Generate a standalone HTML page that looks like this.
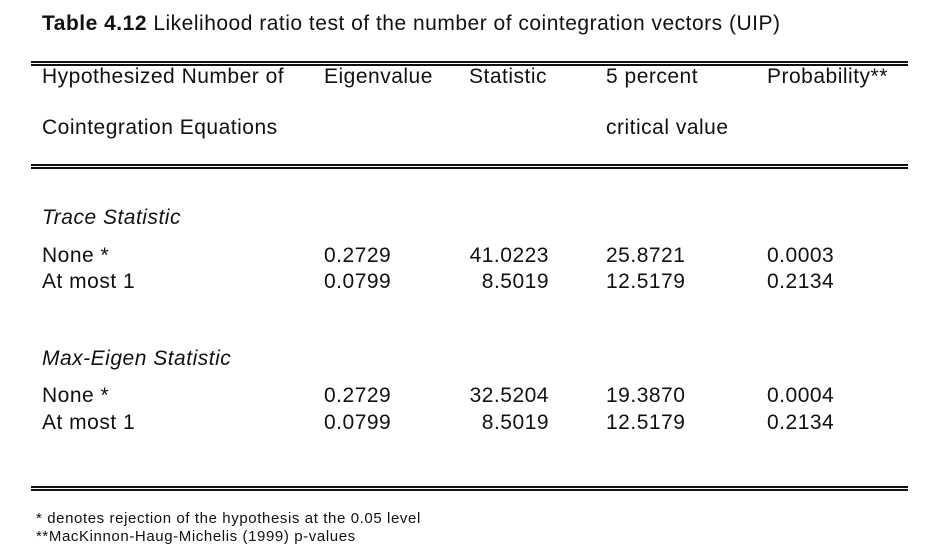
<!DOCTYPE html>
<html><head><style>
body{margin:0;width:944px;height:558px;background:#fff;position:relative;font-family:"Liberation Sans",Arial,sans-serif;color:#111;overflow:hidden}
.t{position:absolute;font-size:21px;white-space:nowrap;line-height:20px;letter-spacing:0.5px}
.r{text-align:right}
.l{position:absolute;left:31px;width:877px;height:1.5px;background:#111}
.f{position:absolute;font-size:15px;white-space:nowrap;line-height:15px;letter-spacing:0.6px}
</style></head><body>
<div class="t" style="left:42px;top:14px"><b>Table 4.12</b> Likelihood ratio test of the number of cointegration vectors (UIP)</div>
<div class="l" style="top:61px"></div><div class="l" style="top:64px"></div>
<div class="t" style="left:42px;top:67px">Hypothesized Number of</div>
<div class="t" style="left:324px;top:67px">Eigenvalue</div>
<div class="t" style="left:469px;top:67px">Statistic</div>
<div class="t" style="left:606px;top:67px">5 percent</div>
<div class="t" style="left:767px;top:67px">Probability**</div>
<div class="t" style="left:42px;top:118px">Cointegration Equations</div>
<div class="t" style="left:606px;top:118px">critical value</div>
<div class="l" style="top:164px"></div><div class="l" style="top:167px"></div>
<div class="t" style="left:42px;top:208px"><i>Trace Statistic</i></div>
<div class="t" style="left:42px;top:246px">None *</div>
<div class="t" style="left:324px;top:246px">0.2729</div>
<div class="t r" style="left:449px;width:100px;top:246px">41.0223</div>
<div class="t" style="left:606px;top:246px">25.8721</div>
<div class="t" style="left:767px;top:246px">0.0003</div>
<div class="t" style="left:42px;top:272px">At most 1</div>
<div class="t" style="left:324px;top:272px">0.0799</div>
<div class="t r" style="left:449px;width:100px;top:272px">8.5019</div>
<div class="t" style="left:606px;top:272px">12.5179</div>
<div class="t" style="left:767px;top:272px">0.2134</div>
<div class="t" style="left:42px;top:349px"><i>Max-Eigen Statistic</i></div>
<div class="t" style="left:42px;top:386px">None *</div>
<div class="t" style="left:324px;top:386px">0.2729</div>
<div class="t r" style="left:449px;width:100px;top:386px">32.5204</div>
<div class="t" style="left:606px;top:386px">19.3870</div>
<div class="t" style="left:767px;top:386px">0.0004</div>
<div class="t" style="left:42px;top:413px">At most 1</div>
<div class="t" style="left:324px;top:413px">0.0799</div>
<div class="t r" style="left:449px;width:100px;top:413px">8.5019</div>
<div class="t" style="left:606px;top:413px">12.5179</div>
<div class="t" style="left:767px;top:413px">0.2134</div>
<div class="l" style="top:486px"></div><div class="l" style="top:489px"></div>
<div class="f" style="left:36px;top:511px">* denotes rejection of the hypothesis at the 0.05 level</div>
<div class="f" style="left:36px;top:529px">**MacKinnon-Haug-Michelis (1999) p-values</div>
</body></html>
